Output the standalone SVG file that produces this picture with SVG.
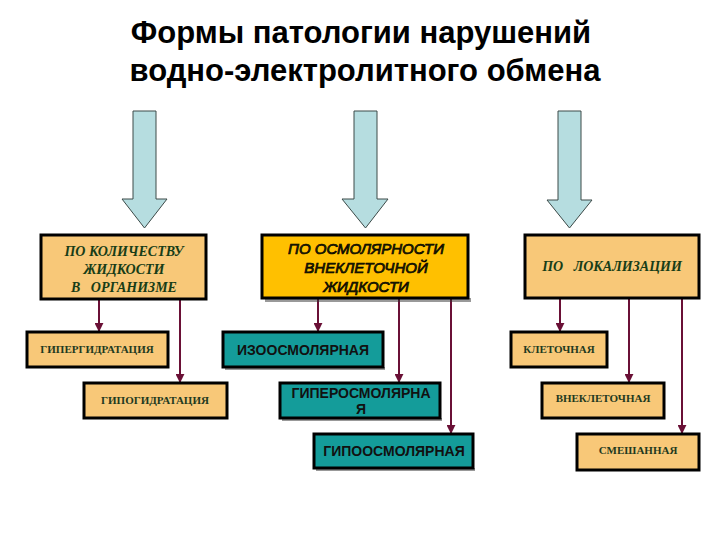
<svg xmlns="http://www.w3.org/2000/svg" width="720" height="540" viewBox="0 0 720 540">
<defs>
<marker id="ah" viewBox="0 0 10 10" refX="9" refY="5" markerWidth="4.5" markerHeight="4.5" orient="auto" markerUnits="strokeWidth">
<path d="M0,0 L10,5 L0,10 z" fill="#6A1036"/>
</marker>
<style>
.title{font-family:"Liberation Sans",Arial,sans-serif;font-weight:bold;font-size:31px;fill:#000;text-anchor:middle}
.big{fill:#B6DDE0;stroke:#3C4A48;stroke-width:1}
.beige{fill:#F8C878;stroke:#000;stroke-width:3}
.gold{fill:#FFC000;stroke:#000;stroke-width:3}
.teal{fill:#149C9A;stroke:#000;stroke-width:3}
.shadow{fill:#333;opacity:0.5}
.ser{font-family:"Liberation Serif","Times New Roman",serif;font-weight:bold;font-style:italic;font-size:14px;fill:#173D17;text-anchor:middle}
.sers{font-family:"Liberation Serif","Times New Roman",serif;font-weight:bold;font-size:11px;fill:#1F3A1F;text-anchor:middle}
.osm{font-family:"Liberation Sans",Arial,sans-serif;font-style:italic;font-size:15px;fill:#2A2A00;stroke:#000;stroke-width:0.7;text-anchor:middle}
.tl{font-family:"Liberation Sans",Arial,sans-serif;font-weight:bold;font-size:14px;fill:#111;text-anchor:middle}
.con{stroke:#6A1036;stroke-width:2;fill:none;marker-end:url(#ah)}
</style>
</defs>
<rect width="720" height="540" fill="#fff"/>
<g id="title">
<text class="title" x="361" y="43">Формы патологии нарушений</text>
<text class="title" x="365" y="81">водно-электролитного обмена</text>
</g>
<g id="bigarrows">
<path class="big" d="M133,111 H156 V199 H167 L144.5,228 L122,199 H133 Z"/>
<path class="big" d="M354,111 H377 V199 H388 L365.5,228 L342,199 H354 Z"/>
<path class="big" d="M558,111 H581 V200 H592 L569.5,228 L547,200 H558 Z"/>
</g>
<g id="connectors">
<line class="con" x1="99" y1="299" x2="99" y2="331"/>
<line class="con" x1="180" y1="299" x2="180" y2="382"/>
<line class="con" x1="318" y1="299" x2="318" y2="331"/>
<line class="con" x1="399" y1="299" x2="399" y2="382"/>
<line class="con" x1="451" y1="299" x2="451" y2="433"/>
<line class="con" x1="560" y1="298" x2="560" y2="331"/>
<line class="con" x1="629" y1="298" x2="629" y2="382"/>
<line class="con" x1="682" y1="298" x2="682" y2="433"/>
</g>
<g id="n-kolichestvo">
<rect class="beige" x="41" y="235" width="165" height="64"/>
<text class="ser" x="124" y="256">ПО КОЛИЧЕСТВУ</text>
<text class="ser" x="124" y="274">ЖИДКОСТИ</text>
<text class="ser" x="124" y="292" xml:space="preserve">В   ОРГАНИЗМЕ</text>
</g>
<g id="n-osmolyarnost">
<rect class="shadow" x="265" y="298" width="206" height="4"/>
<rect class="gold" x="262" y="235" width="206" height="63"/>
<text class="osm" x="366" y="254">ПО ОСМОЛЯРНОСТИ</text>
<text class="osm" x="366" y="273">ВНЕКЛЕТОЧНОЙ</text>
<text class="osm" x="366" y="292">ЖИДКОСТИ</text>
</g>
<g id="n-lokalizaciya">
<rect class="beige" x="525" y="235" width="174" height="63"/>
<text class="ser" x="612" y="271" xml:space="preserve">ПО   ЛОКАЛИЗАЦИИ</text>
</g>
<g id="n-gipergidrataciya">
<rect class="beige" x="27" y="332" width="141" height="35"/>
<text class="sers" x="97" y="353">ГИПЕРГИДРАТАЦИЯ</text>
</g>
<g id="n-gipogidrataciya">
<rect class="beige" x="84" y="383" width="143" height="35"/>
<text class="sers" x="155" y="404">ГИПОГИДРАТАЦИЯ</text>
</g>
<g id="n-izo">
<rect class="shadow" x="225" y="367" width="160" height="3"/>
<rect class="teal" x="223" y="332" width="160" height="35"/>
<text class="tl" x="303" y="355">ИЗООСМОЛЯРНАЯ</text>
</g>
<g id="n-giper">
<rect class="shadow" x="282" y="418" width="160" height="3"/>
<rect class="teal" x="280" y="383" width="160" height="35"/>
<text class="tl" x="361" y="398">ГИПЕРОСМОЛЯРНА</text>
<text class="tl" x="361" y="414">Я</text>
</g>
<g id="n-gipo">
<rect class="shadow" x="316" y="468" width="159" height="3"/>
<rect class="teal" x="314" y="434" width="159" height="34"/>
<text class="tl" x="394" y="456">ГИПООСМОЛЯРНАЯ</text>
</g>
<g id="n-kletochnaya">
<rect class="beige" x="511" y="332" width="96" height="35"/>
<text class="sers" x="559" y="353">КЛЕТОЧНАЯ</text>
</g>
<g id="n-vnekletochnaya">
<rect class="beige" x="542" y="383" width="122" height="35"/>
<text class="sers" x="603" y="402">ВНЕКЛЕТОЧНАЯ</text>
</g>
<g id="n-smeshannaya">
<rect class="beige" x="577" y="434" width="122" height="36"/>
<text class="sers" x="638" y="454">СМЕШАННАЯ</text>
</g>
</svg>
